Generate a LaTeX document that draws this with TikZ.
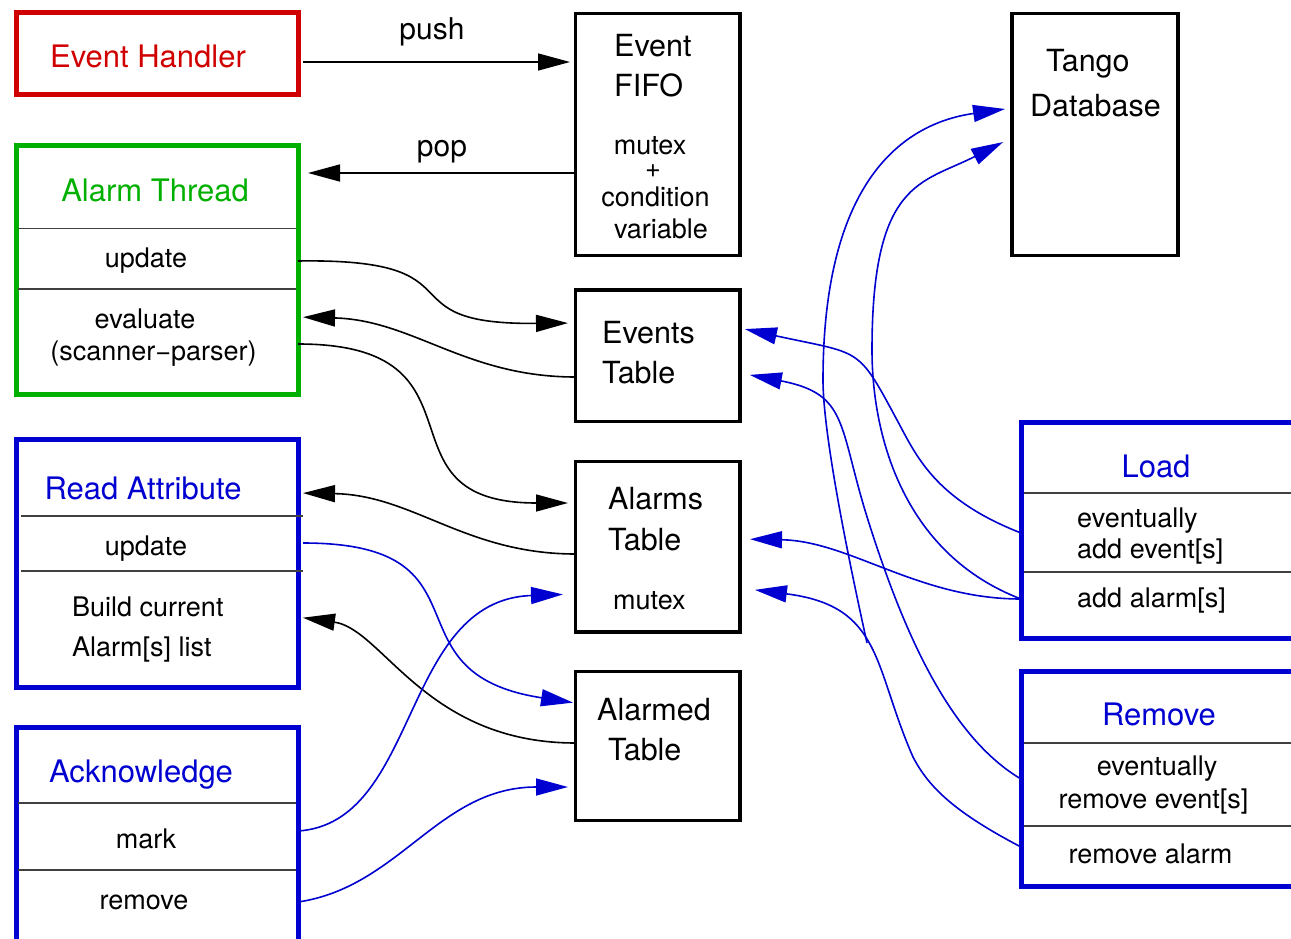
\documentclass[tikz,border=0pt]{standalone}
\usepackage{fontspec}
\setmainfont{TeX Gyre Heros}
\usetikzlibrary{arrows.meta,calc}
\definecolor{xred}{RGB}{208,0,0}
\definecolor{xgreen}{RGB}{0,176,0}
\definecolor{xblue}{RGB}{0,0,208}
\begin{document}
\begin{tikzpicture}[x=1pt,y=-1pt,
  box/.style={draw,line width=3.5pt,inner sep=0pt,outer sep=0pt},
  cbox/.style={draw,line width=5pt,inner sep=0pt,outer sep=0pt},
  sepline/.style={line width=1.2pt,draw=black!75},
  tt/.style={inner sep=0pt,font=\fontsize{31}{36}\selectfont},
  bt/.style={inner sep=0pt,font=\fontsize{30.5}{36}\selectfont},
  st/.style={inner sep=0pt,font=\fontsize{27}{32}\selectfont},
  lt/.style={inner sep=0pt,font=\fontsize{30}{35}\selectfont},
  conn/.style={line width=1.6pt,-{Triangle[length=32pt,width=17pt]}},
  bconn/.style={conn,color=xblue},
]
\useasboundingbox (0,0) rectangle (1291,939);

% ---- boxes ----
\node[cbox,draw=xred,minimum width=282pt,minimum height=82.5pt] (EH) at (157,53.75) {};
\node[cbox,draw=xgreen,minimum width=282pt,minimum height=248pt] (AT) at (157,270) {};
\node[cbox,draw=xblue,minimum width=282pt,minimum height=247.5pt] (RA) at (157,563.25) {};
\node[cbox,draw=xblue,minimum width=282pt,minimum height=233pt] (ACK) at (157,843.5) {};
\node[box,minimum width=164.5pt,minimum height=242pt] (FIFO) at (657.75,134.5) {};
\node[box,minimum width=166pt,minimum height=242pt] (TDB) at (1095,134.5) {};
\node[box,minimum width=164.5pt,minimum height=131.5pt] (ET) at (657.75,355.75) {};
\node[box,minimum width=164.5pt,minimum height=170.5pt] (ALT) at (657.75,546.75) {};
\node[box,minimum width=164.5pt,minimum height=149pt] (ADT) at (657.75,746) {};
\node[cbox,draw=xblue,minimum width=299pt,minimum height=216pt] (LOAD) at (1170.5,530) {};
\node[cbox,draw=xblue,minimum width=299pt,minimum height=215pt] (REM) at (1170.5,778.5) {};

% ---- separators ----
\draw[sepline] (18,228.5) -- (296,228.5);
\draw[sepline] (18,289) -- (296,289);
\draw[sepline] (21,516) -- (303,516);
\draw[sepline] (21,571) -- (303,571);
\draw[sepline] (18,803) -- (296,803);
\draw[sepline] (18,870) -- (296,870);
\draw[sepline] (1024,493) -- (1320,493);
\draw[sepline] (1024,572) -- (1320,572);
\draw[sepline] (1024,743) -- (1320,743);
\draw[sepline] (1024,826) -- (1320,826);

% ---- texts ----
\node[tt,text=xred,anchor=base] (tEH) at (148,68) {Event Handler};
\node[lt,anchor=base] (tpush) at (432,40) {push};
\node[lt,anchor=base] (tpop) at (442,157) {pop};
\node[tt,text=xgreen,anchor=base] (tAT) at (155,201) {Alarm Thread};
\node[st,anchor=base] (tATu) at (146,267) {update};
\node[st,anchor=base] (tATe) at (145,328) {evaluate};
\node[st,anchor=base] (tATs) at (153.5,360) {(scanner−parser)};
\node[tt,text=xblue,anchor=base] (tRA) at (143,499) {Read Attribute};
\node[st,anchor=base] (tRAu) at (146,555) {update};
\node[st,anchor=base west] (tRAb) at (72,616) {Build current};
\node[st,anchor=base west] (tRAl) at (72,656) {Alarm[s] list};
\node[tt,text=xblue,anchor=base] (tACK) at (141,782) {Acknowledge};
\node[st,anchor=base] (tACKm) at (146,848) {mark};
\node[st,anchor=base] (tACKr) at (144,909) {remove};

\node[bt,anchor=base west] (tF1) at (614,57) {Event};
\node[bt,anchor=base west] (tF2) at (614,97) {FIFO};
\node[st,anchor=base] (tF3) at (650,155) {mutex};
\node[st,anchor=base] (tF4) at (653,178) {+};
\node[st,anchor=base] (tF5) at (655.5,206) {condition};
\node[st,anchor=base] (tF6) at (661,238) {variable};

\node[bt,anchor=base west] (tT1) at (1046,72) {Tango};
\node[bt,anchor=base west] (tT2) at (1030,117) {Database};

\node[bt,anchor=base west] (tE1) at (602,343) {Events};
\node[bt,anchor=base west] (tE2) at (602,383) {Table};

\node[bt,anchor=base west] (tA1) at (608,509) {Alarms};
\node[bt,anchor=base west] (tA2) at (608,550) {Table};
\node[st,anchor=base west] (tA3) at (613,609) {mutex};

\node[bt,anchor=base west] (tD1) at (597,720) {Alarmed};
\node[bt,anchor=base west] (tD2) at (608,760) {Table};

\node[tt,text=xblue,anchor=base] (tL) at (1156,477) {Load};
\node[st,anchor=base west] (tL1) at (1077,527) {eventually};
\node[st,anchor=base west] (tL2) at (1077,558) {add event[s]};
\node[st,anchor=base west] (tL3) at (1077,607) {add alarm[s]};

\node[tt,text=xblue,anchor=base] (tR) at (1159,725) {Remove};
\node[st,anchor=base] (tR1) at (1157,775) {eventually};
\node[st,anchor=base] (tR2) at (1153.5,808) {remove event[s]};
\node[st,anchor=base] (tR3) at (1150.5,863) {remove alarm};

% ---- black connectors ----
\draw[conn,shorten <=5pt,shorten >=5.5pt] (EH.east |- 0,62) -- (FIFO.west |- 0,62);
\draw[conn,shorten >=10pt] (FIFO.west |- 0,173) -- (AT.east |- 0,173);
\draw[conn,shorten >=7.5pt] (AT.east |- 0,261) .. controls +(190,-3) and +(-197,2) .. (ET.west |- 0,323);
\draw[conn,shorten >=5pt] (ET.west |- 0,377) .. controls +(-110,0) and +(115,3) .. (AT.east |- 0,317);
\draw[conn,shorten >=7.5pt] (AT.east |- 0,344) .. controls +(200,0) and +(-207,0) .. (ALT.west |- 0,503);
\draw[conn,shorten >=5pt] (ALT.west |- 0,554) .. controls +(-110,0) and +(115,2) .. (RA.east |- 0,493);
\draw[conn,shorten >=5pt] (ADT.west |- 0,743) .. controls +(-150,0) and +(85,12) .. (RA.east |- 0,617);

% ---- blue connectors (left) ----
\draw[bconn,shorten <=5pt,shorten >=2.5pt] (RA.east |- 0,543) .. controls +(200,0) and +(-195,-30) .. (ADT.west |- 0,703);
\draw[bconn,shorten >=12.5pt] (ACK.east |- 0,831) .. controls +(122,-8) and +(-175,6) .. (ALT.west |- 0,594);
\draw[bconn,shorten >=7.5pt] (ACK.east |- 0,902) .. controls +(102,-15) and +(-137,0) .. (ADT.west |- 0,787);

% ---- blue connectors (right) ----
\draw[bconn,shorten >=5pt] (LOAD.west |- 0,533) .. controls +(-87,-34) and +(19,35) .. (897,420)
   .. controls +(-40,-74.5) and +(122,26.6) .. (ET.east |- 0,328);
\draw[bconn,shorten >=10pt] (LOAD.west |- 0,599) .. controls +(-103,0) and +(110,2) .. (ALT.east |- 0,539);
\draw[bconn,shorten >=10pt] (LOAD.west |- 0,599) .. controls +(-115,-44) and +(0,90) .. (872,350)
   .. controls +(0,-170) and +(-90,46) .. (TDB.west |- 0,137.5);
\draw[bconn,shorten >=10pt] (REM.west |- 0,779) .. controls +(-71,-42) and +(36,114) .. (868,520)
   .. controls +(-30,-95) and +(109,21) .. (ET.east |- 0,373);
\draw[bconn,shorten >=15pt] (REM.west |- 0,847) .. controls +(-65,-34) and +(16,31) .. (913,757)
   .. controls +(-40,-91) and +(143,18) .. (ALT.east |- 0,588);
\coordinate (orph) at (867,643);
\draw[bconn,shorten >=7pt] (orph) .. controls +(-13,-59) and +(0,60) .. (823,380)
   .. controls +(0,-190) and +(-116,16.5) .. (TDB.west |- 0,108);
\end{tikzpicture}
\end{document}
